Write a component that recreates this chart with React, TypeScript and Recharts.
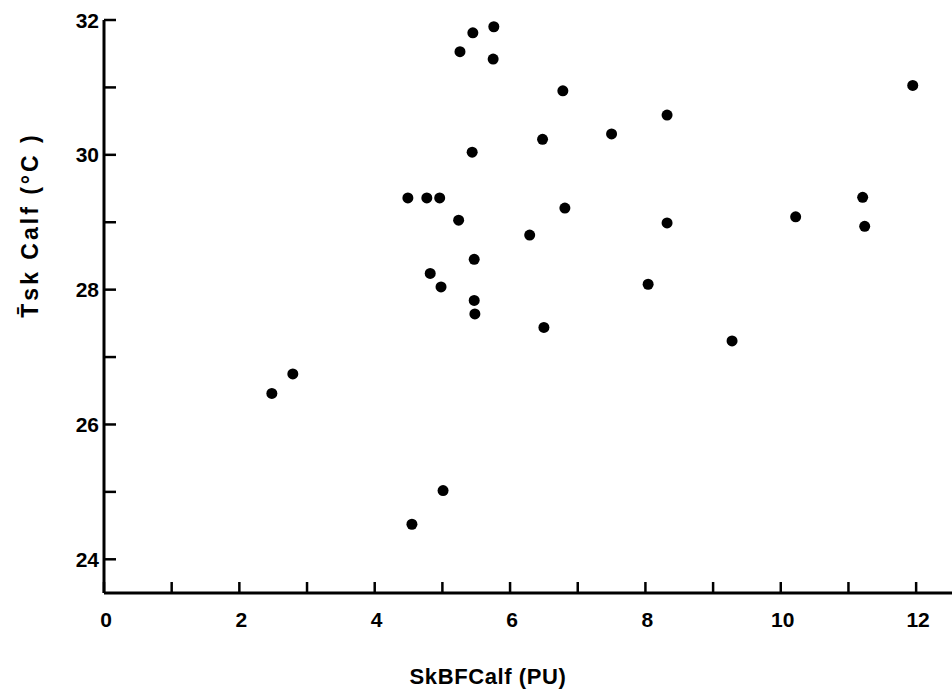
import React from "react";
import { ScatterChart, Scatter, XAxis, YAxis, Label } from "recharts";

// SkBF Calf (PU) vs mean skin temperature of the calf (°C)
const skbfCalf = [
  2.48, 2.79, 4.49, 4.77, 4.96, 4.55, 5.01, 4.82, 4.98, 5.24, 5.26, 5.45, 5.76, 5.75, 5.44, 5.47,
  5.47, 5.48, 6.48, 6.78, 6.81, 6.29, 6.5, 7.5, 8.32, 8.32, 8.04, 9.28, 10.22, 11.21, 11.24, 11.95,
];
const tskCalf = [
  26.46, 26.75, 29.36, 29.36, 29.36, 24.52, 25.02, 28.24, 28.04, 29.03, 31.53, 31.81, 31.9, 31.42, 30.04, 28.45,
  27.84, 27.64, 30.23, 30.95, 29.21, 28.81, 27.44, 30.31, 30.59, 28.99, 28.08, 27.24, 29.08, 29.37, 28.94, 31.03,
];
const xTicks = [0, 1, 2, 3, 4, 5, 6, 7, 8, 9, 10, 11, 12];
const xLabelTicks = [0, 2, 4, 6, 8, 10, 12];
const yTicks = [24, 25, 26, 27, 28, 29, 30, 31, 32];
const yLabelTicks = [24, 26, 28, 30, 32];
const xTitle = "SkBFCalf (PU)";
const yTitle = "T\u0304sk Calf (\u00B0C )";

const data = skbfCalf.map((x, i) => ({ x, y: tskCalf[i] }));

const FONT = "'Liberation Sans', Arial, Helvetica, sans-serif";

const XTick = (props: any) => {
  const { x, y, payload } = props;
  const v = payload.value;
  return (
    <g>
      <line x1={x} y1={y} x2={x} y2={y - 11} stroke="#000" strokeWidth={2.5} />
      {xLabelTicks.includes(v) && (
        <text x={x + 2} y={y + 34} textAnchor="middle" fontFamily={FONT} fontWeight="bold" fontSize={21} fill="#000">
          {v}
        </text>
      )}
    </g>
  );
};

const YTick = (props: any) => {
  const { x, y, payload } = props;
  const v = payload.value;
  return (
    <g>
      <line x1={x} y1={y} x2={x + 12} y2={y} stroke="#000" strokeWidth={2.5} />
      {yLabelTicks.includes(v) && (
        <text x={x - 5} y={y} dy="0.36em" textAnchor="end" fontFamily={FONT} fontWeight="bold" fontSize={21} fill="#000">
          {v}
        </text>
      )}
    </g>
  );
};

const Dot = (props: any) => <circle cx={props.cx} cy={props.cy} r={5.5} fill="#000" />;

export default function App() {
  return (
    <div style={{ width: 952, height: 691, background: "#fff" }}>
      <style>{"body{margin:0;background:#fff;}"}</style>
      <ScatterChart width={952} height={691} margin={{ top: 20, right: 0, bottom: 0, left: 0 }}>
        <XAxis
          type="number"
          dataKey="x"
          domain={[0, 12.53]}
          allowDataOverflow
          ticks={xTicks}
          interval={0}
          height={98}
          tickSize={0}
          tickMargin={0}
          tickLine={false}
          axisLine={{ stroke: "#000", strokeWidth: 3 }}
          tick={<XTick />}
        >
          <Label
            content={() => (
              <text
                x={488}
                y={684}
                textAnchor="middle"
                fontFamily={FONT}
                fontWeight="bold"
                fontSize={22}
                letterSpacing={0.6}
                fill="#000"
              >
                {xTitle}
              </text>
            )}
          />
        </XAxis>
        <YAxis
          type="number"
          dataKey="y"
          domain={[23.5, 32]}
          allowDataOverflow
          ticks={yTicks}
          interval={0}
          width={104}
          tickSize={0}
          tickMargin={0}
          tickLine={false}
          axisLine={{ stroke: "#000", strokeWidth: 3 }}
          tick={<YTick />}
        >
          <Label
            content={() => (
              <text
                x={0}
                y={0}
                transform="translate(38,225) rotate(-90)"
                textAnchor="middle"
                fontFamily={FONT}
                fontWeight="bold"
                fontSize={23}
                letterSpacing={3}
                fill="#000"
              >
                {yTitle}
              </text>
            )}
          />
        </YAxis>
        <Scatter data={data} fill="#000" shape={<Dot />} isAnimationActive={false} />
      </ScatterChart>
    </div>
  );
}
